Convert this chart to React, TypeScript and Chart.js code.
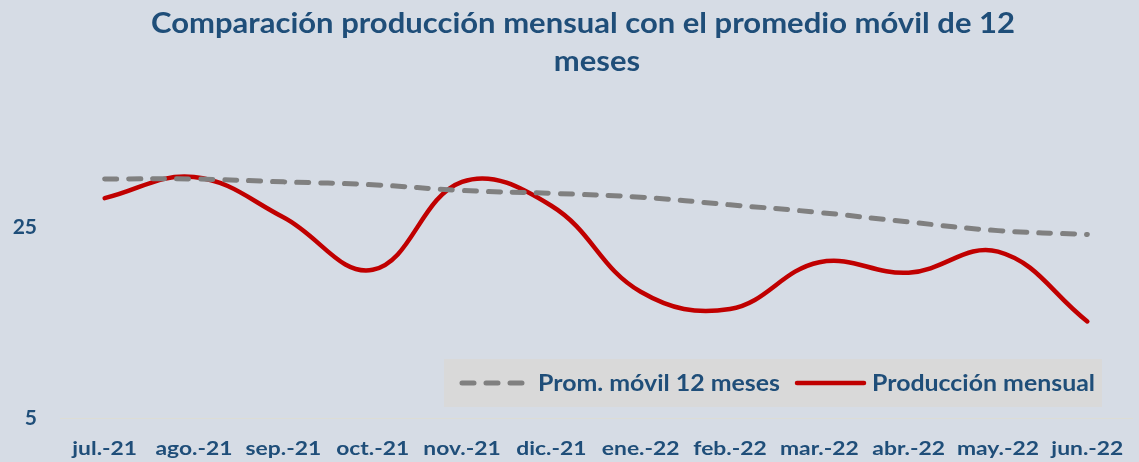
import { useEffect, useRef } from "react";
import { Chart, registerables } from "chart.js";

Chart.register(...registerables);

const categories = [
  "jul.-21", "ago.-21", "sep.-21", "oct.-21", "nov.-21", "dic.-21",
  "ene.-22", "feb.-22", "mar.-22", "abr.-22", "may.-22", "jun.-22",
];
const produccionMensual = [28.0, 30.2, 26.0, 20.5, 29.7, 27.2, 18.2, 16.4, 21.3, 20.2, 22.4, 15.1];
const promedioMovil = [30.0, 30.0, 29.7, 29.4, 28.8, 28.5, 28.1, 27.3, 26.5, 25.5, 24.6, 24.2];
const yTickValues = [5, 25];
const titleLines = ["Comparación producción mensual con el promedio móvil de 12", "meses"];
const seriesNames = ["Prom. móvil 12 meses", "Producción mensual"];

const TEXT = "#1F4E79";
const BG = "#D6DCE5";
const FONT = "Lato, 'Open Sans', sans-serif";

function drawFitted(
  ctx: CanvasRenderingContext2D,
  text: string,
  x: number,
  baseline: number,
  width: number,
  align: "left" | "center"
) {
  const w = ctx.measureText(text).width || 1;
  const sx = width / w;
  ctx.save();
  ctx.translate(x, baseline);
  ctx.scale(sx, 1);
  ctx.textAlign = align;
  ctx.textBaseline = "alphabetic";
  ctx.fillText(text, 0, 0);
  ctx.restore();
}

const decorPlugin = {
  id: "decor",
  beforeDraw(chart: any) {
    const { ctx, width, height } = chart;
    ctx.save();
    ctx.fillStyle = BG;
    ctx.fillRect(0, 0, width, height);
    ctx.restore();
  },
  afterDraw(chart: any) {
    const { ctx } = chart;
    ctx.save();
    // title
    ctx.fillStyle = TEXT;
    ctx.font = `bold 29px ${FONT}`;
    drawFitted(ctx, titleLines[0], 583, 33, 864, "center");
    const m0 = ctx.measureText(titleLines[0]).width || 1;
    const sxTitle = 864 / m0;
    drawFitted(ctx, titleLines[1], 597, 71, ctx.measureText(titleLines[1]).width * sxTitle, "center");

    // x tick labels (positions from the category scale)
    const xs = chart.scales.x;
    ctx.font = `bold 19.5px ${FONT}`;
    const refW = ctx.measureText(categories[1]).width || 1;
    const sxTick = 77 / refW;
    categories.forEach((c: string, i: number) => {
      const px = xs.getPixelForTick(i);
      drawFitted(ctx, c, px, 455, ctx.measureText(c).width * sxTick, "center");
    });

    // legend box
    ctx.fillStyle = "#D9D9D9";
    ctx.fillRect(444, 359, 658, 48);
    const ly = 383;
    ctx.lineCap = "round";
    ctx.strokeStyle = "#808080";
    ctx.lineWidth = 5;
    ctx.setLineDash([12, 12]);
    ctx.beginPath();
    ctx.moveTo(462, ly);
    ctx.lineTo(523, ly);
    ctx.stroke();
    ctx.setLineDash([]);
    ctx.strokeStyle = "#C00000";
    ctx.lineWidth = 4.5;
    ctx.beginPath();
    ctx.moveTo(797, ly);
    ctx.lineTo(864, ly);
    ctx.stroke();
    ctx.fillStyle = TEXT;
    ctx.font = `bold 23.5px ${FONT}`;
    drawFitted(ctx, seriesNames[0], 538, 391, 242, "left");
    drawFitted(ctx, seriesNames[1], 872, 391, 223, "left");
    ctx.restore();
  },
};

export default function App() {
  const ref = useRef<HTMLCanvasElement | null>(null);
  useEffect(() => {
    if (!ref.current) return;
    const chart = new Chart(ref.current, {
      type: "line",
      data: {
        labels: categories,
        datasets: [
          {
            label: seriesNames[0],
            data: promedioMovil,
            borderColor: "#808080",
            borderWidth: 5,
            borderDash: [12, 12],
            borderCapStyle: "round",
            pointRadius: 0,
            tension: 0.4,
            fill: false,
          },
          {
            label: seriesNames[1],
            data: produccionMensual,
            borderColor: "#C00000",
            borderWidth: 4.5,
            borderCapStyle: "round",
            pointRadius: 0,
            tension: 0.4,
            fill: false,
          },
        ],
      },
      options: {
        responsive: false,
        animation: false,
        layout: { padding: { left: 0, right: 7, top: 30, bottom: 0 } },
        plugins: {
          legend: { display: false },
          title: { display: false },
          tooltip: { enabled: false },
        },
        scales: {
          x: {
            offset: true,
            grid: { display: false, drawTicks: false },
            border: { display: true, color: "#DDDDD5", width: 1 },
            ticks: { display: false, autoSkip: false },
            afterFit(scale: any) {
              scale.height = 44;
            },
          },
          y: {
            min: 5,
            max: 45,
            grid: { display: false, drawTicks: false },
            border: { display: false },
            afterBuildTicks(scale: any) {
              scale.ticks = yTickValues.map((v) => ({ value: v }));
            },
            ticks: {
              color: TEXT,
              font: { family: FONT, size: 21, weight: "bold" },
              padding: 23,
            },
            afterFit(scale: any) {
              scale.width = 60;
            },
          },
        },
      },
      plugins: [decorPlugin],
    } as any);
    return () => chart.destroy();
  }, []);
  return (
    <div style={{ position: "absolute", left: 0, top: 0, width: 1139, height: 462 }}>
      <canvas ref={ref} width={1139} height={462} />
    </div>
  );
}
